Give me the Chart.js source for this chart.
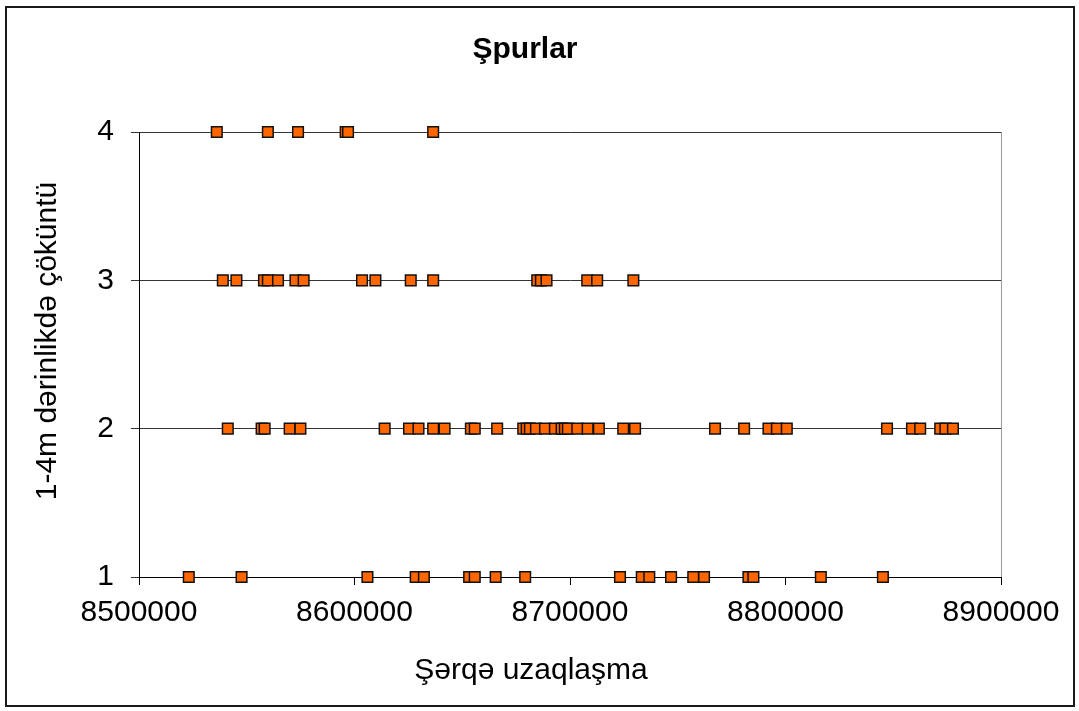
<!DOCTYPE html>
<html>
<head>
<meta charset="utf-8">
<script src="https://cdn.jsdelivr.net/npm/chart.js@4"></script>
<style>
  body { margin: 0; background: #fff; }
  #wrap { width: 1079px; height: 711px; position: relative; }
</style>
</head>
<body>
<div id="wrap"><canvas id="chart"></canvas></div>
<script>
// Easting values for each depth class
const depthLevels = [1, 2, 3, 4];
const eastAt1 = [8523100, 8547600, 8606000, 8628400, 8632200, 8653200, 8655800, 8665500, 8679200,
    8723200, 8733300, 8736800, 8746900, 8757200, 8762200, 8782800, 8785100, 8816400, 8845200];
const eastAt2 = [8541200, 8556900, 8558300, 8569900, 8574900, 8614000, 8625300, 8629700, 8636500,
    8641800, 8654000, 8655800, 8666200, 8678300, 8679900, 8681400, 8684200, 8688400, 8693000,
    8696100, 8697600, 8699000, 8703400, 8708200, 8713400, 8724700, 8730200, 8767300, 8780800,
    8792100, 8796000, 8800600, 8847100, 8858700, 8862500, 8871800, 8874200, 8877700];
const eastAt3 = [8538900, 8545200, 8558000, 8559800, 8564500, 8572600, 8576400, 8603500, 8609700,
    8626100, 8636500, 8684800, 8686500, 8689100, 8708000, 8712600, 8729400];
const eastAt4 = [8536100, 8559800, 8573800, 8595900, 8597000, 8636500];
const xTicks = [8500000, 8600000, 8700000, 8800000, 8900000];

const chartTitle = 'Şpurlar';
const xTitle = 'Şərqə uzaqlaşma';
const yTitle = '1-4m dərinlikdə çöküntü';

const rows = [eastAt1, eastAt2, eastAt3, eastAt4];
let points = [];
rows.forEach((row, i) => {
    row.forEach(e => points.push({ x: e, y: depthLevels[i] }));
});

const fontFamily = '"Liberation Sans", Arial, sans-serif';

// Excel-style frame, plot edge and titles (titles are not centred on the plot in the original)
const framePlugin = {
    id: 'frame',
    afterDraw(chart) {
        const ctx = chart.ctx;
        const a = chart.chartArea;
        ctx.save();
        ctx.strokeStyle = '#999';
        ctx.lineWidth = 1;
        ctx.beginPath();
        ctx.moveTo(a.right + 0.5, a.top);
        ctx.lineTo(a.right + 0.5, a.bottom);
        ctx.stroke();
        ctx.strokeStyle = '#1a1a1a';
        ctx.lineWidth = 2;
        ctx.strokeRect(6, 7, 1068, 699);

        ctx.fillStyle = '#000';
        ctx.textAlign = 'center';
        ctx.textBaseline = 'middle';
        ctx.font = 'bold 30px ' + fontFamily;
        ctx.fillText(chartTitle, 525, 49.5);
        ctx.font = '30px ' + fontFamily;
        ctx.fillText(xTitle, 531, 670.5);
        ctx.translate(48, 341);
        ctx.rotate(-Math.PI / 2);
        ctx.fillText(yTitle, 0, 0);
        ctx.restore();
    }
};

new Chart(document.getElementById('chart'), {
    type: 'scatter',
    data: {
        datasets: [{
            label: chartTitle,
            data: points,
            pointStyle: 'rect',
            pointRadius: 7.5,
            pointHoverRadius: 7.5,
            backgroundColor: '#ff6600',
            borderColor: '#111',
            borderWidth: 1.5,
            clip: false
        }]
    },
    options: {
        responsive: true,
        maintainAspectRatio: false,
        animation: false,
        layout: { padding: { left: 8, right: 78, top: 132, bottom: 8 } },
        plugins: {
            legend: { display: false },
            tooltip: { enabled: false },
            title: { display: false }
        },
        scales: {
            x: {
                type: 'linear',
                min: xTicks[0],
                max: xTicks[xTicks.length - 1],
                afterFit: s => { s.height = 126; },
                afterBuildTicks: s => { s.ticks = xTicks.map(v => ({ value: v })); },
                ticks: {
                    color: '#000',
                    padding: 10,
                    maxRotation: 0,
                    font: { family: fontFamily, size: 30 },
                    callback: v => String(v)
                },
                grid: { drawOnChartArea: false, drawTicks: true, tickLength: 8, color: '#000' },
                border: { color: '#000', width: 1 }
            },
            y: {
                min: depthLevels[0],
                max: depthLevels[depthLevels.length - 1],
                afterFit: s => { s.width = 131; },
                ticks: {
                    stepSize: 1,
                    color: '#000',
                    padding: 17,
                    font: { family: fontFamily, size: 30 }
                },
                grid: { color: '#333', lineWidth: 1, tickLength: 8 },
                border: { color: '#000', width: 1 }
            }
        }
    },
    plugins: [framePlugin]
});
</script>
</body>
</html>
